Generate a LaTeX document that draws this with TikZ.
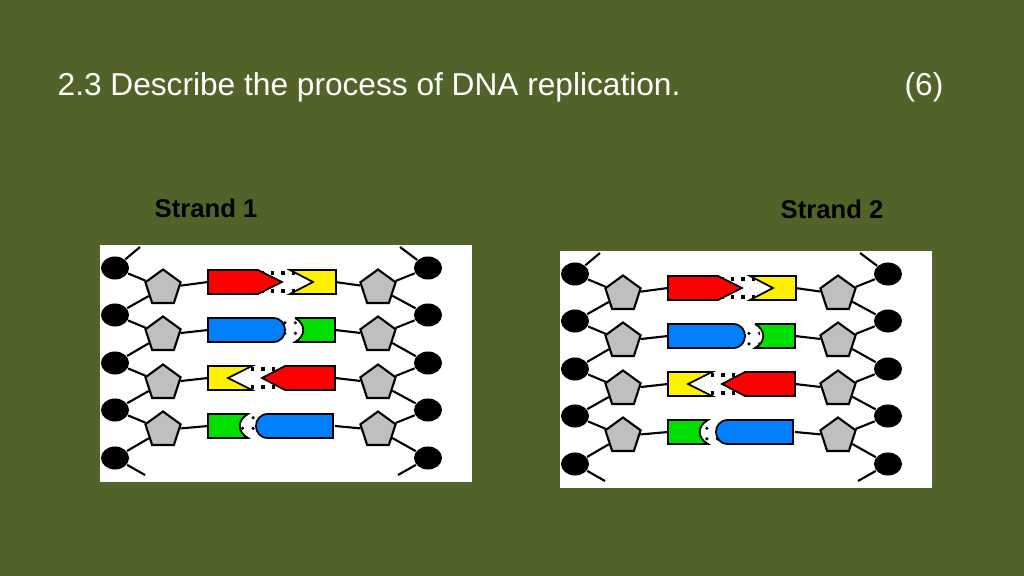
\documentclass[tikz,border=0pt]{standalone}
\usepackage{fontspec}
\setmainfont{Liberation Sans}
\usetikzlibrary{shapes.geometric,patterns}
\definecolor{boardgreen}{HTML}{52632A}
\definecolor{baseblue}{HTML}{0080FF}
\definecolor{basegreen}{HTML}{00E000}
\tikzset{
  bead/.style={ellipse, fill=black, inner sep=0pt, minimum width=0.28cm, minimum height=0.23cm},
  sugar/.style={regular polygon, regular polygon sides=5, draw=black, fill=gray!50, line width=0.6pt, inner sep=0pt, minimum size=0.37cm},
  bond/.style={line width=0.6pt},
  base/.style={draw=black, line width=0.5pt},
  hbond/.style={dotted, line width=1pt},
  panel/.pic={
    \fill[white] (0,0) rectangle (372,237);
    % backbone
    \foreach \i/\y in {1/23,2/70,3/118,4/165,5/213}{
      \node[bead] (-l\i) at (15,\y) {};
      \node[bead] (-r\i) at (328,\y) {};
    }
    \foreach \i/\y in {1/43,2/90,3/138,4/185}{
      \node[sugar] (-ls\i) at (63,\y) {};
      \node[sugar] (-rs\i) at (278,\y) {};
    }
    \foreach \i/\y [evaluate=\i as \j using int(\i+1)] in {1/37,2/85,3/133,4/181}{
      \draw[bond] (-l\i) -- (-ls\i) -- (-l\j);
      \draw[bond] (-r\i) -- (-rs\i) -- (-r\j);
      \draw[bond] (-ls\i) -- (108,\y);
      \draw[bond] (-rs\i) -- (235,\y);
    }
    \draw[bond] (-l1) -- (40,2);
    \draw[bond] (-r1) -- (300,2);
    \draw[bond] (-l5) -- (45,230);
    \draw[bond] (-r5) -- (298,230);
    % row 1
    \draw[hbond] (160,28) -- (205,28);
    \draw[hbond] (160,46) -- (205,46);
    \draw[base, fill=red] (108,25) -- (158,25) -- (182,37) -- (158,49) -- (108,49) -- cycle;
    \draw[base, fill=yellow] (190,25) -- (236,25) -- (236,49) -- (190,49) -- (213,37) -- cycle;
    % row 2
    \fill[pattern=dots] (180,75) rectangle (200,95);
    \draw[base, fill=baseblue] (108,73) -- (173,73) .. controls (189,73) and (189,97) .. (173,97) -- (108,97) -- cycle;
    \draw[base, fill=basegreen] (195,73) -- (235,73) -- (235,97) -- (195,97) .. controls (206,91) and (206,79) .. (195,73);
    % row 3
    \draw[hbond] (140,124) -- (185,124);
    \draw[hbond] (140,142) -- (185,142);
    \draw[base, fill=yellow] (108,121) -- (152,121) -- (128,133) -- (152,145) -- (108,145) -- cycle;
    \draw[base, fill=red] (162,133) -- (185,121) -- (235,121) -- (235,145) -- (185,145) -- cycle;
    % row 4
    \fill[pattern=dots] (140,171) rectangle (162,191);
    \draw[base, fill=basegreen] (108,169) -- (148,169) .. controls (137,175) and (137,187) .. (148,193) -- (108,193) -- cycle;
    \draw[base, fill=baseblue] (168,169) -- (233,169) -- (233,193) -- (168,193) .. controls (152,193) and (152,169) .. (168,169);
  }
}
\begin{document}
\begin{tikzpicture}[x=0.01cm, y=-0.01cm]
  \fill[boardgreen] (0,0) rectangle (1024,576);
  \useasboundingbox (0,0) rectangle (1024,576);

  \node[anchor=west, text=white, font=\fontsize{9pt}{11pt}\selectfont, inner sep=0pt] (title) at (57,87) {2.3 Describe the process of DNA replication.};
  \node[anchor=east, text=white, font=\fontsize{9pt}{11pt}\selectfont, inner sep=0pt] (marks) at (944,87) {(6)};

  \node[font=\fontsize{7.3pt}{9pt}\selectfont\bfseries, inner sep=0pt] (label1) at (206,208) {Strand 1};
  \node[font=\fontsize{7.3pt}{9pt}\selectfont\bfseries, inner sep=0pt] (label2) at (832,209) {Strand 2};

  \pic (s1) at (100,245) {panel};
  \pic (s2) at (560,251) {panel};
\end{tikzpicture}
\end{document}
